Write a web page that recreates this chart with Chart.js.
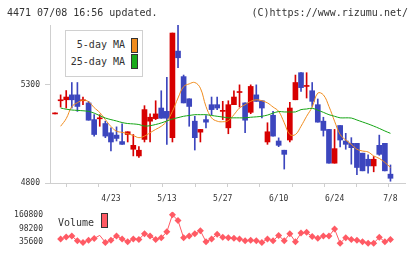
<!DOCTYPE html>
<html>
<head>
<meta charset="utf-8">
<script src="https://cdn.jsdelivr.net/npm/chart.js@4.4.0/dist/chart.umd.min.js"></script>
<style>
  body { margin: 0; background: #fff; width: 420px; height: 259px; overflow: hidden; position: relative;
         font-family: "DejaVu Sans Mono", monospace; color: #333; }
  canvas { position: absolute; left: 0; }
  #main { top: 0; }
  #vol { top: 200px; }
  .txt { position: absolute; font-size: 10px; line-height: 12px; white-space: pre; }
  .sw { position: absolute; width: 7px; height: 15px; border: 1px solid #333; box-sizing: border-box; }
  #legbox { position: absolute; left: 65px; top: 30px; width: 78px; height: 47px; border: 1px solid #d0d0d0;
            box-sizing: border-box; background: #fff; }
</style>
</head>
<body>
<canvas id="main" width="420" height="205"></canvas>
<canvas id="vol" width="420" height="59"></canvas>

<div class="txt" style="left:7px; top:7px;">4471 07/08 16:56 updated.</div>
<div class="txt" style="right:12px; top:7px;">(C)https://www.rizumu.net/</div>

<div id="legbox"></div>
<div class="txt" style="right:295px; top:39px;">5-day MA</div>
<div class="sw" style="left:131px; top:38px; background:#f08c1e;"></div>
<div class="txt" style="right:295px; top:56px;">25-day MA</div>
<div class="sw" style="left:131px; top:54px; background:#1aaa1a;"></div>

<div class="txt" style="left:58px; top:217px;">Volume</div>
<div class="sw" style="left:101px; top:213px; background:#ff5a64;"></div>

<script>
// ローソク足 (index 0 = 一番古い日)
const openP  = [5152,5219,5224,5249,5249,5219,5208,5123,5127,5103,5056,5044,5011,5047,4972,4938,5022,5115,5128,5182,
                5165,5031,5472,5342,5229,5115,5059,5123,5199,5199,5165,5081,5199,5261,5208,5160,5249,5219,5009,5145,
                5014,4967,5019,5224,5362,5292,5270,5199,5115,5073,4901,5093,5014,5002,5002,4952,4921,4887,4992,5002,4845];
const closeP = [5152,5219,5238,5224,5190,5219,5120,5047,5127,5039,5009,5027,4997,5061,4992,4967,5174,5135,5152,5130,
                5130,5564,5438,5208,5190,5031,5073,5110,5174,5182,5165,5199,5238,5261,5120,5292,5216,5182,5061,5039,
                4992,4946,5182,5312,5286,5292,5216,5110,5068,4901,4975,5019,4997,4980,4879,4862,4887,4921,4946,4862,4824];
const highP  = [5152,5249,5271,5312,5312,5238,5216,5148,5148,5115,5081,5086,5101,5061,5047,4985,5194,5152,5219,5270,
                5339,5564,5603,5350,5229,5140,5073,5143,5238,5238,5216,5219,5270,5300,5208,5300,5300,5219,5107,5165,
                5030,4967,5211,5350,5362,5362,5312,5228,5135,5073,5073,5093,5053,5031,5002,4952,4943,4935,5044,5002,4892];
const lowP   = [5152,5187,5182,5182,5165,5199,5120,5039,5089,5031,4963,5014,4997,5009,4938,4930,5009,5009,5123,5130,
                4997,5009,5387,5208,5089,4968,5009,5081,5148,5174,5123,5051,5199,5187,5056,5153,5216,5132,4997,5039,
                4985,4871,5009,5224,5266,5233,5190,5110,5039,4901,4901,4984,4972,4896,4842,4862,4850,4857,4941,4862,4809];

// 移動平均
const ma5  = [null,5089,5128,5189,5209,5222,5214,5184,5159,5123,5088,5064,5058,5051,5042,5031,5039,5056,5073,5089,
              5115,5165,5233,5291,5305,5312,5283,5190,5132,5115,5112,5118,5148,5182,5199,5216,5224,5219,5208,5187,
              5165,5107,5047,5047,5089,5140,5187,5258,5249,5190,5115,5047,5019,4997,4972,4963,4958,4938,4925,4905,4879];
const ma25 = [null,5182,5176,5172,5170,5168,5165,5156,5143,5131,5123,5116,5108,5103,5101,5098,5090,5092,5098,5106,
              5116,5126,5133,5140,5144,5148,5148,5148,5144,5140,5136,5132,5132,5132,5132,5135,5137,5140,5146,5156,
              5164,5162,5162,5162,5174,5177,5181,5171,5160,5148,5140,5132,5132,5131,5121,5111,5101,5090,5078,5065,5053];

// 出来高
const volume = [null,50700,59000,63500,42000,34600,45200,52600,66700,34600,45200,63500,50700,37800,50700,48400,74100,63500,48400,55800,
                82800,159800,134100,55800,63500,74100,87900,37800,50700,71900,58100,55800,53900,50700,42000,45200,42000,34600,50700,42000,
                66700,42000,74100,37800,77300,80500,61300,53900,63500,63500,95600,31400,55800,48400,45200,37800,31400,31400,58100,37800,48400];

// 日付ラベル (何本目のローソクか)
const dateLabels = ['4/23','5/13','5/27','6/10','6/24','7/8'];
const dateIdx    = [10, 20, 30, 40, 50, 60];
const priceTicks = [4800, 5300];
const volTicks   = [35600, 98200, 160800];

const RED = '#d70000', BLUE = '#3c46be';
const X_MIN = -0.9, X_MAX = 62.6;
const MONO = '"DejaVu Sans Mono", monospace';
Chart.defaults.font.family = MONO;
Chart.defaults.color = '#333';

const up = i => closeP[i] >= openP[i];
const bodies = openP.map((o, i) => ({ x: i, y: [o, closeP[i]] }));
const wicks  = lowP.map((l, i) => ({ x: i, y: [l, highP[i]] }));
const toPts = arr => arr.map((v, i) => ({ x: i, y: v })).filter(p => p.y !== null);

function xTicks(scale) {
    const t = [];
    for (let k = 0; k <= 11; k++) t.push({ value: X_MIN + k * (X_MAX - X_MIN) / 11 });
    dateIdx.forEach(d => t.push({ value: d }));
    scale.ticks = t;
}

new Chart(document.getElementById('main'), {
    type: 'bar',
    data: {
        datasets: [
            { type: 'line', data: toPts(ma25), borderColor: '#14a514', borderWidth: 1, pointRadius: 0, tension: 0.3, order: 0 },
            { type: 'line', data: toPts(ma5), borderColor: '#f08c1e', borderWidth: 1, pointRadius: 0, tension: 0.4, order: 1 },
            { data: bodies, barThickness: 5, minBarLength: 1, grouped: false, order: 2,
              backgroundColor: c => up(c.dataIndex) ? RED : BLUE },
            { data: wicks, barThickness: 1, minBarLength: 1, grouped: false, order: 3,
              backgroundColor: c => up(c.dataIndex) ? RED : BLUE }
        ]
    },
    options: {
        responsive: false,
        animation: false,
        layout: { padding: { top: 25, right: 15, left: 0, bottom: 0 } },
        plugins: { legend: { display: false }, tooltip: { enabled: false } },
        scales: {
            x: {
                type: 'linear', min: X_MIN, max: X_MAX, offset: false,
                afterBuildTicks: xTicks,
                afterFit: s => { s.height = 22; },
                grid: { drawOnChartArea: false, tickLength: 4,
                        tickColor: c => c.index < 12 ? '#cfcfcf' : 'rgba(0,0,0,0)' },
                border: { color: '#cfcfcf' },
                ticks: {
                    autoSkip: false, maxRotation: 0, padding: 7,
                    font: { size: 8 },
                    callback: (v, i) => i >= 12 ? dateLabels[i - 12] : ''
                }
            },
            y: {
                min: 4800, max: 5605,
                afterBuildTicks: s => { s.ticks = priceTicks.map(v => ({ value: v })); },
                afterFit: s => { s.width = 50; },
                grid: { drawOnChartArea: false, tickLength: 5, tickColor: '#cfcfcf' },
                border: { color: '#cfcfcf' },
                ticks: { padding: 5, font: { size: 8 }, callback: v => String(v) }
            }
        }
    }
});

new Chart(document.getElementById('vol'), {
    type: 'line',
    data: {
        datasets: [{
            data: toPts(volume),
            borderColor: '#ff5a64', borderWidth: 1, tension: 0,
            pointStyle: 'rectRot',
            pointRadius: c => c.raw && c.raw.x === 8 ? 0 : 3.5,
            pointBackgroundColor: '#ff5a64', pointBorderWidth: 0
        }]
    },
    options: {
        responsive: false,
        animation: false,
        layout: { padding: { top: 5, right: 15, left: 0, bottom: 4 } },
        plugins: { legend: { display: false }, tooltip: { enabled: false } },
        scales: {
            x: { type: 'linear', min: X_MIN, max: X_MAX, display: false },
            y: {
                min: 13130, max: 173640,
                afterBuildTicks: s => { s.ticks = volTicks.map(v => ({ value: v })); },
                afterFit: s => { s.width = 50; },
                grid: { display: false, drawTicks: false },
                border: { display: false },
                ticks: { padding: 7, font: { size: 8 }, callback: v => String(v) }
            }
        }
    }
});
</script>
</body>
</html>
